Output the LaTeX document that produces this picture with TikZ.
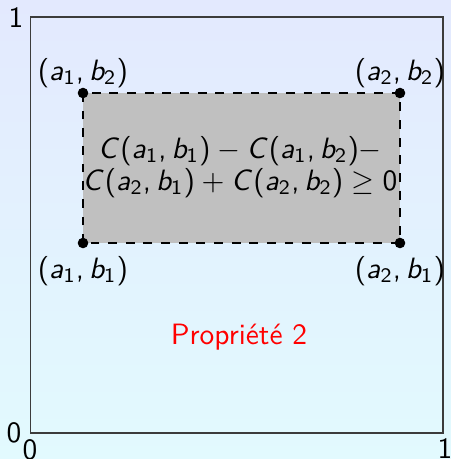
\documentclass[tikz,border=0pt]{standalone}
\DeclareSymbolFont{sfit}{OT1}{cmss}{m}{sl}
\DeclareSymbolFont{sfup}{OT1}{cmss}{m}{n}
\DeclareMathSymbol{a}{\mathalpha}{sfit}{`a}
\DeclareMathSymbol{b}{\mathalpha}{sfit}{`b}
\DeclareMathSymbol{C}{\mathalpha}{sfit}{`C}
\DeclareMathSymbol{0}{\mathalpha}{sfup}{`0}
\DeclareMathSymbol{1}{\mathalpha}{sfup}{`1}
\DeclareMathSymbol{2}{\mathalpha}{sfup}{`2}
\DeclareMathSymbol{(}{\mathopen}{sfup}{`(}
\DeclareMathSymbol{)}{\mathclose}{sfup}{`)}
\DeclareMathSymbol{,}{\mathpunct}{sfup}{`,}
\definecolor{bgtop}{RGB}{227,233,254}
\definecolor{bgbot}{RGB}{226,250,254}
\definecolor{framecol}{RGB}{60,60,60}
\definecolor{boxgray}{RGB}{192,192,192}
\begin{document}
\begin{tikzpicture}[x=0.34pt,y=-0.34pt,
  every node/.style={font=\sffamily, inner sep=0pt},
  frameline/.style={draw=framecol, line width=0.4pt},
  boxstyle/.style={draw=black, dashed, fill=boxgray, line width=0.4pt},
  dot/.style={circle, fill=black, minimum size=3.6pt, inner sep=0pt},
  lbl/.style={anchor=center}]
\fill[top color=bgtop, bottom color=bgbot] (0,0) rectangle (451,459);
\useasboundingbox (0,0) rectangle (451,459);
\coordinate (O) at (30.5,433);
\coordinate (T) at (443,17);
\draw[frameline] (O) rectangle (T);
\coordinate (c11) at (83,243);
\coordinate (c22) at (400,93);
\draw[boxstyle] (c11) rectangle (c22);
\node[dot] (p11) at (83,243) {};
\node[dot] (p12) at (83,93) {};
\node[dot] (p21) at (400,243) {};
\node[dot] (p22) at (400,93) {};
\node[lbl] (l12) at (83,73) {$(a_1,b_2)$};
\node[lbl] (l22) at (400,73) {$(a_2,b_2)$};
\node[lbl] (l11) at (83,271) {$(a_1,b_1)$};
\node[lbl] (l21) at (400,271) {$(a_2,b_1)$};
\node[align=center] (eq) at (240,167) {$C(a_1,b_1)-C(a_1,b_2)-$\\[-1.2pt]$C(a_2,b_1)+C(a_2,b_2)\geq 0$};
\node[text=red] (prop) at (239,337) {Propri\'et\'e 2};
\node (y1) at (16,18) {1};
\node (y0) at (14,433) {0};
\node (x0) at (30,450) {0};
\node (x1) at (445,449) {1};
\end{tikzpicture}
\end{document}
